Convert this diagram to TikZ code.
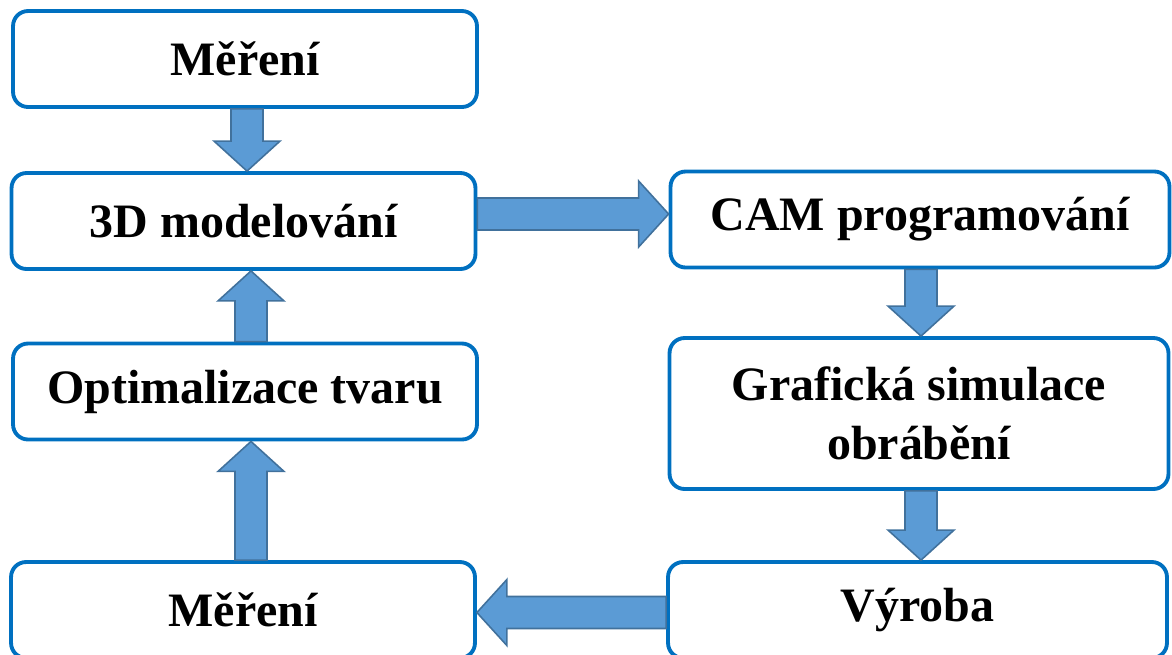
\documentclass[tikz,border=0pt]{standalone}
\usepackage{fontspec}
\setmainfont{Liberation Serif}
\usetikzlibrary{calc}
\definecolor{boxline}{HTML}{0070C0}
\definecolor{arrowfill}{HTML}{5B9BD5}
\definecolor{arrowline}{HTML}{41719C}
\begin{document}
\begin{tikzpicture}[x=0.02cm,y=-0.02cm,
    box/.style={draw=boxline, line width=2.2pt, rounded corners=0.3cm,
      minimum height=1.92cm, inner sep=0pt, align=center,
      font=\bfseries\fontsize{27.3}{33.5}\selectfont},
    leftbox/.style={box, minimum width=9.28cm},
    rightbox/.style={box, minimum width=9.98cm},
    blockarrow/.style={draw=arrowline, fill=arrowfill, line width=0.9pt}]
      \def\shaftw{0.32cm}
      \def\headw{0.66cm}
      \def\headl{0.6cm}
      % #1 = start, #2 = tip
      \def\blockarrow#1#2{%
        \coordinate (h) at ($(#2)!\headl!(#1)$);
        \draw[blockarrow] ($(#1)!\shaftw!90:(#2)$) -- ($(h)!\shaftw!-90:(#1)$)
          -- ($(h)!\headw!-90:(#1)$) -- (#2) -- ($(h)!\headw!90:(#1)$)
          -- ($(h)!\shaftw!90:(#1)$) -- ($(#1)!\shaftw!-90:(#2)$) -- cycle;}
      \useasboundingbox (0,0) rectangle (1172,654);

      % LEFT COLUMN
      \node[leftbox] (mer1) at (245,59) {Měření};
      \node[leftbox] (model) at (243.5,221) {3D modelování};
      \node[leftbox] (optim) at (245,391.5) {Optimalizace tvaru};
      \node[leftbox] (mer2) at (243,610) {Měření};

      % RIGHT COLUMN
      \node[rightbox] (cam) at (920,219.5) {CAM programování};
      \node[rightbox, minimum height=3.02cm] (simul) at (919,413.5) {Grafická simulace\\obrábění};
      \node[rightbox] (vyroba) at (917.5,610) {Výroba};

      % ARROW ENDS
      \coordinate (dn1s) at ($(mer1.south)+(2,0)$);
      \coordinate (dn1t) at (dn1s |- model.north);
      \coordinate (dn2s) at ($(cam.south)+(1,0)$);
      \coordinate (dn2t) at (dn2s |- simul.north);
      \coordinate (dn3s) at ($(simul.south)+(2,0)$);
      \coordinate (dn3t) at (dn3s |- vyroba.north);
      \coordinate (up1s) at ($(optim.north)+(6,0)$);
      \coordinate (up1t) at (up1s |- model.south);
      \coordinate (up2s) at ($(mer2.north)+(8,0)$);
      \coordinate (up2t) at (up2s |- optim.south);
      \coordinate (rts) at ($(model.east)+(0,-7)$);
      \coordinate (rtt) at (cam.west |- rts);
      \coordinate (lts) at ($(vyroba.west)+(0,2.5)$);
      \coordinate (ltt) at (mer2.east |- lts);

      % ARROWS
      \blockarrow{dn1s}{dn1t}
      \blockarrow{rts}{rtt}
      \blockarrow{dn2s}{dn2t}
      \blockarrow{dn3s}{dn3t}
      \blockarrow{lts}{ltt}
      \blockarrow{up2s}{up2t}
      \blockarrow{up1s}{up1t}
    \end{tikzpicture}
\end{document}
